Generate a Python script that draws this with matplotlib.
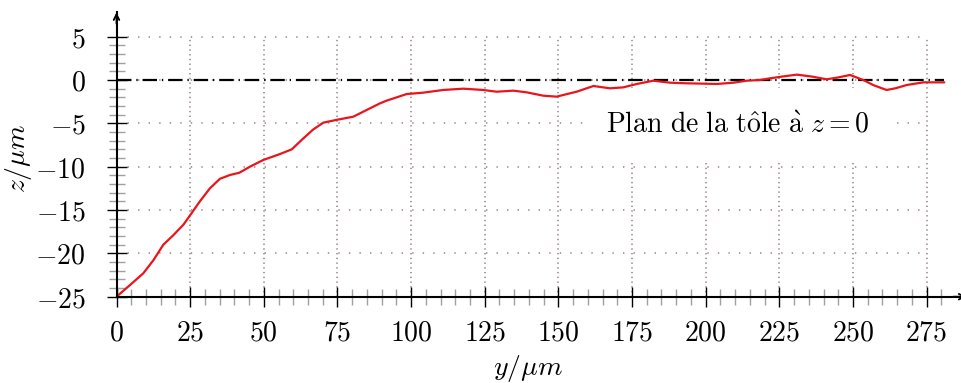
"""Profil de la tôle : z en fonction de y (courbe mesurée + plan z = 0)."""

import matplotlib

matplotlib.use("Agg")
import matplotlib.pyplot as plt
from matplotlib.ticker import FixedLocator, FuncFormatter

plt.rcParams["mathtext.fontset"] = "cm"
plt.rcParams["font.family"] = ["DejaVu Serif"]

# Données
y_um = [0.0, 4.6, 9.1, 12.5, 15.9, 19.3, 22.7, 25.0, 28.3, 31.7, 35.1, 38.5,
        41.7, 45.3, 49.8, 55.5, 59.5, 62.9, 66.8, 70.2, 74.7, 80.4, 84.9,
        89.4, 91.7, 98.5, 104.1, 110.9, 117.7, 124.5, 129.0, 134.7, 139.2,
        144.9, 149.4, 153.9, 156.2, 161.9, 167.5, 172.0, 176.6, 182.2, 187.9,
        193.5, 199.2, 203.7, 209.4, 213.9, 218.4, 221.8, 226.0, 230.9, 236.0,
        241.1, 245.0, 249.0, 253.5, 257.0, 261.4, 264.5, 268.2, 273.9, 281.0]
z_um = [-25.0, -23.65, -22.3, -20.8, -19.0, -17.9, -16.7, -15.6, -14.0,
        -12.5, -11.4, -10.96, -10.7, -10.0, -9.23, -8.54, -8.0, -6.9, -5.7,
        -4.92, -4.6, -4.23, -3.46, -2.7, -2.38, -1.62, -1.46, -1.15, -1.0,
        -1.15, -1.35, -1.23, -1.42, -1.81, -1.92, -1.54, -1.35, -0.69, -0.96,
        -0.85, -0.46, -0.08, -0.31, -0.38, -0.42, -0.46, -0.31, -0.08, 0.0,
        0.19, 0.4, 0.62, 0.4, 0.08, 0.3, 0.58, 0.0, -0.6, -1.15, -0.95, -0.58,
        -0.27, -0.27]

plane_z = 0.0
plane_label = r"$\mathrm{Plan\ de\ la\ t\hat{o}le\ \grave{a}\ }z = 0$"
label_pos = (211.0, -5.2)

x_major = list(range(0, 276, 25))
x_minor = list(range(0, 281, 5))
y_major = list(range(-25, 6, 5))
y_minor = list(range(-25, 6, 1))

FS = 20
W, H = 961, 383
fig = plt.figure(figsize=(W / 100, H / 100), dpi=100)
ax = fig.add_axes([116.5 / W, (H - 296.7) / H, 844.0 / W, 284.3 / H])
ax.set_xlim(0, 286.5)
ax.set_ylim(-25, 7.8)

# grille pointillée limitée au domaine des graduations
grid_col = "#958282"
ax.hlines(y_major[1:], x_major[0], x_major[-1], colors=grid_col,
          linestyles=(0, (0.9, 6)), linewidth=1.1, zorder=1)
ax.vlines(x_major[1:], y_major[0], y_major[-1], colors=grid_col,
          linestyles=(0, (0.9, 2.2)), linewidth=1.1, zorder=1)

# plan de la tôle
ax.plot([y_um[0], y_um[-1]], [plane_z, plane_z], color="black", lw=1.6,
        dashes=(6.5, 2.2, 0.6, 2.2), zorder=2)

# profil mesuré
ax.plot(y_um, z_um, color="#e8151b", lw=1.6, zorder=4,
        solid_capstyle="round", solid_joinstyle="round")

ax.text(*label_pos, plane_label, ha="center", va="center", fontsize=FS,
        zorder=3, bbox=dict(fc="white", ec="none", boxstyle="square,pad=0.85"))

# axes style tikz : traits fléchés
for side in ("top", "right"):
    ax.spines[side].set_visible(False)
for side in ("left", "bottom"):
    ax.spines[side].set_linewidth(1.5)
    ax.spines[side].set_zorder(5)
ax.annotate("", xy=(0, 7.8), xytext=(0, 6.5),
            arrowprops=dict(arrowstyle="->", lw=1.3, color="black",
                            shrinkA=0, shrinkB=0),
            annotation_clip=False)
ax.annotate("", xy=(288.5, -25), xytext=(284.0, -25),
            arrowprops=dict(arrowstyle="->", lw=1.3, color="black",
                            shrinkA=0, shrinkB=0),
            annotation_clip=False)

ax.xaxis.set_major_locator(FixedLocator(x_major))
ax.xaxis.set_minor_locator(FixedLocator(x_minor))
ax.yaxis.set_major_locator(FixedLocator(y_major))
ax.yaxis.set_minor_locator(FixedLocator(y_minor))
fmt = FuncFormatter(lambda v, p: f"${v:g}$")
ax.xaxis.set_major_formatter(fmt)
ax.yaxis.set_major_formatter(fmt)

ax.tick_params(which="major", direction="inout", length=14.4, width=1.0,
               color="black", labelsize=FS)
ax.tick_params(which="minor", direction="inout", length=11.5, width=1.0,
               color="#a0a0a0")
ax.tick_params(axis="x", which="major", pad=9)
ax.tick_params(axis="y", which="major", pad=15)

ax.set_xlabel(r"$y/\mu m$", fontsize=FS, va="center", ha="center")
ax.set_ylabel(r"$z/\mu m$", fontsize=FS, va="center", ha="center")
ax.xaxis.set_label_coords((528 - 116.5) / 844, (296.7 - 368) / 284.3)
ax.yaxis.set_label_coords((19 - 116.5) / 844, (296.7 - 158) / 284.3)

fig.savefig("out.png", dpi=100)
